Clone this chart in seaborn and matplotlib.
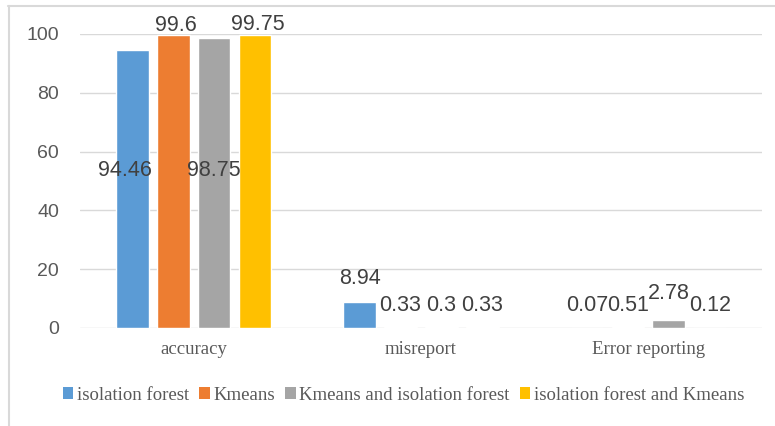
import matplotlib
matplotlib.use("Agg")
import matplotlib.pyplot as plt
import seaborn as sns
import pandas as pd
from matplotlib.lines import Line2D
from matplotlib.patches import Patch

categories = ["accuracy", "misreport", "Error reporting"]
series_names = ["isolation forest", "Kmeans", "Kmeans and isolation forest", "isolation forest and Kmeans"]
isolation_forest = [94.46, 8.94, 0.07]
kmeans = [99.6, 0.33, 0.51]
kmeans_and_iforest = [98.75, 0.3, 2.78]
iforest_and_kmeans = [99.75, 0.33, 0.12]
yticks = [0, 20, 40, 60, 80, 100]

colors = ["#5B9BD5", "#ED7D31", "#A5A5A5", "#FFC000"]
# label placement (data-unit y of label centre, x offset in points) - layout only
label_y = [[53.7, 16.7, 7.8], [103.0, 7.8, 7.8], [53.7, 7.8, 11.9], [103.4, 7.8, 7.8]]
label_dx = [[-5, 0, 0], [2, 0, 0], [0, 0, 0], [2, 0, 0]]

series_values = [isolation_forest, kmeans, kmeans_and_iforest, iforest_and_kmeans]
rows = []
for name, vals in zip(series_names, series_values):
    for c, v in zip(categories, vals):
        rows.append({"category": c, "series": name, "value": v})
df = pd.DataFrame(rows)

sns.set_theme(style="white")
plt.rcParams["font.family"] = ["Liberation Sans", "DejaVu Sans"]

fig = plt.figure(figsize=(7.75, 4.26), dpi=100)
ax = fig.add_axes([80/775, (426-328)/426, (762-80)/775, (328-34)/426])

sns.barplot(data=df, x="category", y="value", hue="series", order=categories,
            hue_order=series_names, palette=colors, width=0.72, gap=0.2,
            saturation=1, ax=ax, legend=False, errorbar=None)

ax.set_ylim(0, 100)
ax.set_xlim(-0.5, 2.5)
ax.set_yticks(yticks)
ax.grid(axis="y", color="#D9D9D9", lw=1)
ax.set_axisbelow(True)
for s in ax.spines.values():
    s.set_visible(False)
ax.set_xlabel("")
ax.set_ylabel("")
ax.tick_params(axis="y", length=0, pad=15, labelsize=14, labelcolor="#595959")
ax.tick_params(axis="x", length=0, pad=9, labelcolor="#595959")
for t in ax.get_xticklabels():
    t.set_fontfamily("Liberation Serif")
    t.set_fontsize(13.5)

for i, cont in enumerate(ax.containers):
    for j, bar in enumerate(cont):
        xc = bar.get_x() + bar.get_width() / 2
        ax.annotate(f"{series_values[i][j]:g}", xy=(xc, label_y[i][j]),
                    xytext=(label_dx[i][j], 0), textcoords="offset points",
                    ha="center", va="center", fontsize=15.5, color="#404040",
                    annotation_clip=False)

handles = [Patch(facecolor=c, edgecolor="none") for c in colors]
leg = fig.legend(handles, series_names, loc="center", bbox_to_anchor=(0.521, (426-395)/426),
                 ncol=4, frameon=False, handlelength=0.55, handleheight=0.55,
                 handletextpad=0.2, columnspacing=0.55,
                 prop={"family": "Liberation Serif", "size": 13.5})
for t in leg.get_texts():
    t.set_color("#595959")

fig.add_artist(Line2D([8/775, 1], [1-6/426, 1-6/426], color="#D9D9D9", lw=1.5))
fig.add_artist(Line2D([9/775, 9/775], [0, 1-6/426], color="#D9D9D9", lw=1.5))

fig.savefig("out.png", dpi=100)
